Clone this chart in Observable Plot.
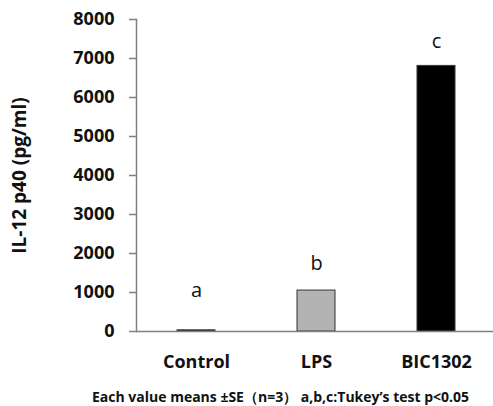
<!DOCTYPE html>
<html>
<head>
<meta charset="utf-8">
<script src="https://cdn.jsdelivr.net/npm/d3@7"></script>
<script src="https://cdn.jsdelivr.net/npm/@observablehq/plot@0.6"></script>
<style>
  html, body { margin: 0; padding: 0; background: #fff; }
  #chart { width: 493px; height: 380px; }
  #caption { font-family: "Open Sans", sans-serif; font-weight: bold; font-size: 14px; color: #111; text-align: left; padding-left: 92px; margin-top: 7px; white-space: nowrap; }
</style>
</head>
<body>
<div id="chart"></div>
<div id="caption">Each value means ±SE（n=3） a,b,c:Tukey’s test p&lt;0.05</div>
<script>
const categories = ["Control", "LPS", "BIC1302"];
const values = [30, 1050, 6810];
const errors = [5, 25, 30];
const letters = ["a", "b", "c"];
const letterY = [1050, 1740, 7430];
const fills = ["#111111", "#b3b3b3", "#000000"];
const yTicks = [0, 1000, 2000, 3000, 4000, 5000, 6000, 7000, 8000];

const data = categories.map((c, i) => ({
  cat: c, value: values[i], err: errors[i], letter: letters[i], ly: letterY[i], fill: fills[i]
}));

const font = "'Open Sans', sans-serif";

const chart = Plot.plot({
  width: 493,
  height: 380,
  marginTop: 19,
  marginBottom: 49,
  marginLeft: 136,
  marginRight: 0,
  style: { fontFamily: font, background: "#fff" },
  x: { domain: categories, range: [136, 496], paddingInner: 0.68, paddingOuter: 0.34, label: null },
  y: { domain: [0, 8000], label: null },
  marks: [
    Plot.barY(data, { x: "cat", y: "value", fill: "fill", stroke: "#333", strokeWidth: 1 }),
    Plot.ruleY(data, { x: "cat", y: d => d.value + d.err, stroke: "#111", strokeWidth: 2, insetLeft: 15, insetRight: 15 }),
    Plot.ruleY([0], { stroke: "#808080", strokeWidth: 1.5 }),
    Plot.frame({ anchor: "left", stroke: "#808080", strokeWidth: 1.5 }),
    Plot.axisY({ ticks: yTicks, tickSize: 7, tickPadding: 15, tickFormat: d => String(d), fontSize: 18, fontWeight: "bold", fill: "#111", stroke: "#808080", strokeWidth: 1.5,
      label: "IL-12 p40 (pg/ml)", labelAnchor: "center", labelArrow: "none", labelOffset: 124 }),
    Plot.axisX({ tickSize: 0, tickPadding: 24, fontSize: 18, fontWeight: "bold", fill: "#111" }),
    Plot.text(data, { x: "cat", y: "ly", text: "letter", fontSize: 20, fill: "#111" })
  ]
});

document.getElementById("chart").append(chart);
chart.querySelectorAll("g[aria-label='y-axis label'] text").forEach(t => {
  t.setAttribute("font-weight", "bold");
  t.setAttribute("font-size", "19");
});
</script>
</body>
</html>
